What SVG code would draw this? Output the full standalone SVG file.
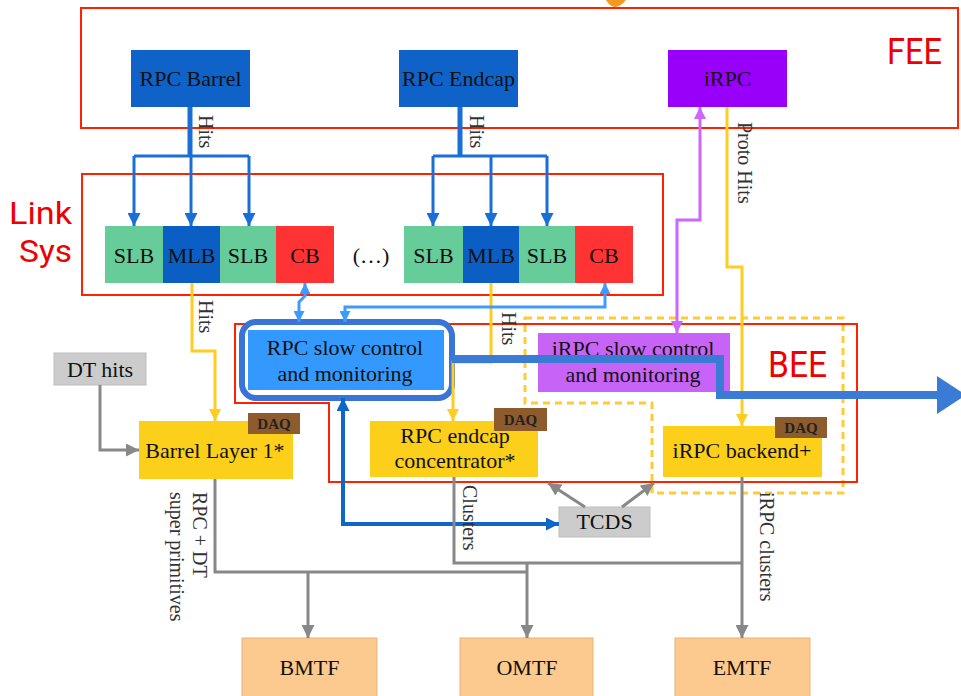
<svg xmlns="http://www.w3.org/2000/svg" width="961" height="696" viewBox="0 0 961 696">
<style>
.t{font-family:"Liberation Serif","Times New Roman",serif;font-size:22px;fill:#111;text-anchor:middle}
.daq{font-family:"Liberation Serif",serif;font-size:15px;font-weight:bold;fill:#222;text-anchor:middle}
.rl{font-family:"Liberation Serif",serif;font-size:20px;fill:#333}
.red{font-family:"Roboto","Liberation Sans",sans-serif;font-size:36px;fill:#ee0000}
.ln{fill:none;stroke-linejoin:miter}
.blue{stroke:#1a6fd6}
.lb{stroke:#3d9bff;stroke-width:3}
.db{stroke:#0d66c8;stroke-width:4}
.yel{stroke:#ffcc22;stroke-width:3}
.pur{stroke:#cc66ff;stroke-width:3}
.gry{stroke:#888;stroke-width:3}
.frame{fill:none;stroke:#ff2200;stroke-width:2}
</style>
<defs>
<marker id="aB" viewBox="0 0 10 10" refX="10" refY="5" markerWidth="13" markerHeight="13" markerUnits="userSpaceOnUse" orient="auto-start-reverse"><path d="M0,0 L10,5 L0,10 z" fill="#1a6fd6"/></marker>
<marker id="aL" viewBox="0 0 10 10" refX="10" refY="5" markerWidth="11" markerHeight="11" markerUnits="userSpaceOnUse" orient="auto-start-reverse"><path d="M0,0 L10,5 L0,10 z" fill="#3d9bff"/></marker>
<marker id="aD" viewBox="0 0 10 10" refX="10" refY="5" markerWidth="13" markerHeight="13" markerUnits="userSpaceOnUse" orient="auto-start-reverse"><path d="M0,0 L10,5 L0,10 z" fill="#0d66c8"/></marker>
<marker id="aY" viewBox="0 0 10 10" refX="10" refY="5" markerWidth="12" markerHeight="12" markerUnits="userSpaceOnUse" orient="auto-start-reverse"><path d="M0,0 L10,5 L0,10 z" fill="#ffcc22"/></marker>
<marker id="aP" viewBox="0 0 10 10" refX="10" refY="5" markerWidth="12" markerHeight="12" markerUnits="userSpaceOnUse" orient="auto-start-reverse"><path d="M0,0 L10,5 L0,10 z" fill="#cc66ff"/></marker>
<marker id="aG" viewBox="0 0 10 10" refX="10" refY="5" markerWidth="13" markerHeight="13" markerUnits="userSpaceOnUse" orient="auto-start-reverse"><path d="M0,0 L10,5 L0,10 z" fill="#888"/></marker>
</defs>
<rect width="961" height="696" fill="#fff"/>
<path d="M606,0 Q614,14 626,0 z" fill="#f39a1e"/>

<!-- frames -->
<g id="fee-frame">
<rect x="81" y="8" width="877" height="120" class="frame"/>
<text x="887" y="64" class="red" textLength="55" lengthAdjust="spacingAndGlyphs">FEE</text>
</g>
<g id="link-frame">
<rect x="82" y="174" width="581" height="121" class="frame"/>
<text x="9" y="224" class="red" style="font-size:32px" textLength="63" lengthAdjust="spacingAndGlyphs">Link</text>
<text x="19" y="262" class="red" style="font-size:32px" textLength="53" lengthAdjust="spacingAndGlyphs">Sys</text>
</g>
<g id="irpc-dashed">
<path d="M525,318 H843 V493 H652 V403 H525 Z" fill="none" stroke="#ffcc33" stroke-width="3" stroke-dasharray="7 5"/>
</g>
<g id="bee-frame">
<path d="M235,324 H857 V482 H329 V403 H235 Z" class="frame"/>
<text x="768" y="377" class="red" textLength="59" lengthAdjust="spacingAndGlyphs">BEE</text>
</g>

<!-- nodes -->
<g id="rpc-barrel"><rect x="131" y="50" width="119" height="57" fill="#0e62c8"/><text x="190.5" y="86" class="t">RPC Barrel</text></g>
<g id="rpc-endcap"><rect x="399" y="50" width="119" height="57" fill="#0e62c8"/><text x="458.5" y="86" class="t">RPC Endcap</text></g>
<g id="irpc"><rect x="668" y="50" width="119" height="57" fill="#9900fa"/><text x="727.5" y="86" class="t">iRPC</text></g>

<g id="slb1"><rect x="105" y="226" width="58" height="57" fill="#66cc99"/><text x="134" y="263" class="t">SLB</text></g>
<g id="mlb1"><rect x="163" y="226" width="57" height="57" fill="#0b5fc4"/><text x="191.5" y="263" class="t">MLB</text></g>
<g id="slb2"><rect x="220" y="226" width="56" height="57" fill="#66cc99"/><text x="248" y="263" class="t">SLB</text></g>
<g id="cb1"><rect x="276" y="226" width="58" height="57" fill="#ff3333"/><text x="305" y="263" class="t">CB</text></g>
<g id="ellipsis"><text x="371" y="263" class="t">(…)</text></g>
<g id="slb3"><rect x="404" y="226" width="59" height="57" fill="#66cc99"/><text x="433.5" y="263" class="t">SLB</text></g>
<g id="mlb2"><rect x="463" y="226" width="56" height="57" fill="#0b5fc4"/><text x="491" y="263" class="t">MLB</text></g>
<g id="slb4"><rect x="519" y="226" width="56" height="57" fill="#66cc99"/><text x="547" y="263" class="t">SLB</text></g>
<g id="cb2"><rect x="575" y="226" width="58" height="57" fill="#ff3333"/><text x="604" y="263" class="t">CB</text></g>

<g id="dt-hits"><rect x="54" y="353" width="92" height="32" fill="#cccccc" stroke="#bdbdbd"/><text x="100" y="377" class="t">DT hits</text></g>

<g id="rpc-slow"><rect x="242" y="322" width="210" height="76" rx="14" fill="#fff" stroke="#3a74d4" stroke-width="6"/><rect x="248" y="330" width="196" height="60" fill="#3399ff"/><text x="345" y="355" class="t">RPC slow control</text><text x="345" y="381" class="t">and monitoring</text></g>

<g id="irpc-slow"><rect x="538" y="333" width="192" height="59" fill="#c863f7"/><text x="633" y="356" class="t">iRPC slow control</text><text x="633" y="382" class="t">and monitoring</text></g>

<g id="barrel-layer"><rect x="139" y="421" width="154" height="58" fill="#fbcf1a"/><rect x="248" y="413" width="52" height="21" fill="#8d5b2c"/><text x="274" y="429" class="daq">DAQ</text><text x="215" y="458" class="t">Barrel Layer 1*</text></g>

<g id="endcap-conc"><rect x="370" y="421" width="168" height="56" fill="#fbcf1a"/><rect x="494" y="408" width="53" height="23" fill="#8d5b2c"/><text x="520.5" y="425" class="daq">DAQ</text><text x="455" y="443" class="t">RPC endcap</text><text x="455" y="468" class="t">concentrator*</text></g>

<g id="irpc-backend"><rect x="663" y="426" width="159" height="51" fill="#fbcf1a"/><rect x="775" y="417" width="52" height="21" fill="#8d5b2c"/><text x="801" y="433" class="daq">DAQ</text><text x="742" y="458" class="t">iRPC backend+</text></g>

<g id="tcds"><rect x="559" y="507" width="91" height="30" fill="#cccccc" stroke="#bdbdbd"/><text x="604.5" y="529" class="t">TCDS</text></g>

<g id="bmtf"><rect x="242" y="638" width="135" height="62" fill="#fcc98f" stroke="#e8b47a"/><text x="309.5" y="675" class="t">BMTF</text></g>
<g id="omtf"><rect x="460" y="638" width="133" height="62" fill="#fcc98f" stroke="#e8b47a"/><text x="527" y="675" class="t">OMTF</text></g>
<g id="emtf"><rect x="675" y="638" width="135" height="62" fill="#fcc98f" stroke="#e8b47a"/><text x="742" y="675" class="t">EMTF</text></g>

<!-- connectors -->
<g id="connectors">
<path d="M190,107 V156" class="ln blue" stroke-width="5"/>
<path d="M134,156 H249" class="ln blue" stroke-width="3"/>
<path d="M134,156 V226" class="ln blue" stroke-width="3" marker-end="url(#aB)"/>
<path d="M191,156 V226" class="ln blue" stroke-width="3" marker-end="url(#aB)"/>
<path d="M249,156 V226" class="ln blue" stroke-width="3" marker-end="url(#aB)"/>
<path d="M460,107 V156" class="ln blue" stroke-width="5"/>
<path d="M433,156 H547" class="ln blue" stroke-width="3"/>
<path d="M433,156 V226" class="ln blue" stroke-width="3" marker-end="url(#aB)"/>
<path d="M491,156 V226" class="ln blue" stroke-width="3" marker-end="url(#aB)"/>
<path d="M547,156 V226" class="ln blue" stroke-width="3" marker-end="url(#aB)"/>

<path d="M192,283 V351 H215 V421" class="ln yel" marker-end="url(#aY)"/>
<path d="M491,283 V362 H453 V421" class="ln yel" marker-end="url(#aY)"/>
<path d="M727,107 V267 H742 V426" class="ln yel" marker-end="url(#aY)"/>
<path d="M700,107 V220 H677 V333" class="ln pur" marker-start="url(#aP)" marker-end="url(#aP)"/>

<path d="M305,283 V296 L299,302 V322" class="ln lb" marker-start="url(#aL)" marker-end="url(#aL)"/>
<path d="M605,283 V307 H345 V322" class="ln lb" marker-start="url(#aL)" marker-end="url(#aL)"/>

<path d="M343,398 V524 H559" class="ln db" marker-start="url(#aD)" marker-end="url(#aD)"/>

<path d="M100,385 V450 H139" class="ln gry" marker-end="url(#aG)"/>
<path d="M215,479 V572 H527" class="ln gry"/>
<path d="M308,572 V638" class="ln gry" marker-end="url(#aG)"/>
<path d="M454,477 V563 H742" class="ln gry"/>
<path d="M527,563 V638" class="ln gry" marker-end="url(#aG)"/>
<path d="M742,477 V638" class="ln gry" marker-end="url(#aG)"/>
<path d="M585,507 L548,483" class="ln gry" marker-end="url(#aG)"/>
<path d="M622,507 L654,483" class="ln gry" marker-end="url(#aG)"/>

<path d="M452,359 H720 V395 H940" fill="none" stroke="#3a7bd5" stroke-width="8"/>
<polygon points="937,376 966,395 937,414" fill="#3a7bd5"/>

<text class="rl" transform="translate(199,115) rotate(90)">Hits</text>
<text class="rl" transform="translate(470,115) rotate(90)">Hits</text>
<text class="rl" transform="translate(738,122) rotate(90)">Proto Hits</text>
<text class="rl" transform="translate(199,300) rotate(90)">Hits</text>
<text class="rl" transform="translate(502,312) rotate(90)">Hits</text>
<text class="rl" transform="translate(463,485) rotate(90)">Clusters</text>
<text class="rl" transform="translate(760,492) rotate(90)">iRPC clusters</text>
<text class="rl" transform="translate(193,492) rotate(90)">RPC + DT</text>
<text class="rl" transform="translate(170,492) rotate(90)">super primitives</text>
</g>
</svg>
